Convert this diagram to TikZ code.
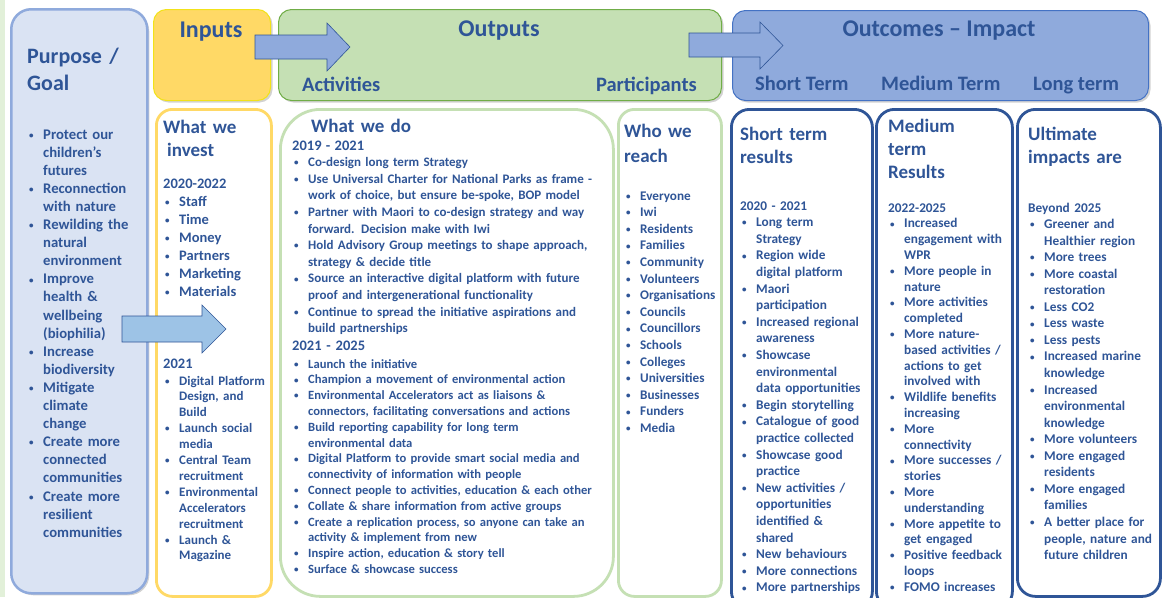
\documentclass[tikz,border=0pt]{standalone}
\usepackage{fontspec}
\setmainfont{Carlito}
\usetikzlibrary{shadows}

\definecolor{txtblue}{HTML}{2F5597}
\definecolor{purposefill}{HTML}{DAE3F3}
\definecolor{purposeline}{HTML}{8FAADC}
\definecolor{inputfill}{HTML}{FFD966}
\definecolor{inputline}{HTML}{F2E21A}
\definecolor{outputfill}{HTML}{C5E0B4}
\definecolor{outputline}{HTML}{70AD47}
\definecolor{outcomefill}{HTML}{8FAADC}
\definecolor{outcomeline}{HTML}{4472C4}
\definecolor{stripgreen}{HTML}{E2F0D9}
\definecolor{arrowlight}{HTML}{9DC3E6}

\newlength\bulind \setlength\bulind{16pt}
% one bullet item, wrapped lines hang under the text
\newcommand\itm[1]{\hangindent=\bulind\hangafter=1\noindent
  \makebox[\bulind][l]{\hspace{2pt}\raisebox{0.8pt}{\fontsize{9}{9}\selectfont\textbullet}}#1\par}
\newcommand\yr[1]{\noindent #1\par}

\begin{document}
\begin{tikzpicture}[x=1pt, y=-1pt,
  hdr/.style={draw, anchor=north west, inner sep=0pt, line width=1pt, rounded corners=13pt,
    drop shadow={opacity=0.35, shadow xshift=2pt, shadow yshift=-2pt}},
  col/.style={draw, fill=white, anchor=north west, inner sep=0pt, line width=2.8pt, rounded corners=16pt},
  ttl/.style={text=txtblue, inner sep=0pt, anchor=base, font=\bfseries\fontsize{24}{29}\selectfont},
  sub/.style={text=txtblue, inner sep=0pt, font=\bfseries\fontsize{20.5}{24}\selectfont},
  head/.style={text=txtblue, inner sep=0pt, anchor=base west, text width=#1, align=left,
    font=\bfseries\fontsize{19}{23.5}\selectfont},
  lst/.style={text=txtblue, inner sep=0pt, anchor=base west, text width=#1, align=left},
  blockarrow/.style={fill=outcomefill, draw=txtblue, line width=0.6pt}
]
  \useasboundingbox (0,0) rectangle (1166,597);
  \fill[white] (0,0) rectangle (1166,597);
  \fill[stripgreen] (0,0) rectangle (5,597);

  %% boxes
  \node[hdr, draw=purposeline, fill=purposefill, line width=2.5pt, rounded corners=20pt,
    minimum width=136, minimum height=584] (purpose) at (10,8) {};
  \node[hdr, draw=inputline, fill=inputfill, minimum width=117, minimum height=91] (inputs) at (153,9) {};
  \node[hdr, draw=outputline, fill=outputfill, minimum width=443, minimum height=91] (outputs) at (278,9) {};
  \node[hdr, draw=outcomeline, fill=outcomefill, minimum width=416, minimum height=90] (outcomes) at (732,10) {};

  \node[col, draw=inputfill, minimum width=115, minimum height=487] (invest) at (155,108) {};
  \node[col, draw=outputfill, rounded corners=40pt, minimum width=333, minimum height=487] (whatwedo) at (279,108) {};
  \node[col, draw=outputfill, minimum width=103, minimum height=487] (whoreach) at (617,108) {};
  \node[col, draw=txtblue, rounded corners=18pt, minimum width=141, minimum height=500] (shortres) at (730,108) {};
  \node[col, draw=txtblue, rounded corners=18pt, minimum width=136, minimum height=500] (medres) at (875,108) {};
  \node[col, draw=txtblue, rounded corners=18pt, minimum width=143, minimum height=487] (longres) at (1016,108) {};

  %% block arrows
  \draw[blockarrow] (255,35) -- (327,35) -- (327,23) -- (350,47) -- (327,71) -- (327,59) -- (255,59) -- cycle;
  \draw[blockarrow] (689,33) -- (760,33) -- (760,22) -- (783,45.5) -- (760,69) -- (760,57) -- (689,57) -- cycle;
  \draw[blockarrow, fill=arrowlight] (122,316) -- (202,316) -- (202,305) -- (226,329) -- (202,353) -- (202,342) -- (122,342) -- cycle;

  %% header texts
  \node[ttl] (inputsTtl) at (211,37) {Inputs};
  \node[ttl] (outputsTtl) at (499,36) {Outputs};
  \node[ttl] (outcomesTtl) at (939,36) {Outcomes – Impact};
  \node[sub, anchor=base west] (activities) at (302,91) {Activities};
  \node[sub, anchor=base east] (participants) at (697,91) {Participants};
  \foreach \x/\t/\n in {755/Short Term/stTerm, 881/Medium Term/mdTerm, 1033/Long term/lgTerm}
    \node[sub, anchor=base west] (\n) at (\x,90) {\t};

  %% purpose / goal
  \node[head=115, font=\bfseries\fontsize{22}{27}\selectfont] (purposeTtl) at (27,63) {Purpose /\newline Goal};
  \node[lst=118, font=\bfseries\fontsize{14.7}{18.1}\selectfont] (purposeLst) at (27,139) {%
    \itm{Protect our\newline children’s\newline futures}
    \itm{Reconnection\newline with nature}
    \itm{Rewilding the\newline natural\newline environment}
    \itm{Improve\newline health \&\newline wellbeing\newline (biophilia)}
    \itm{Increase\newline biodiversity}
    \itm{Mitigate\newline climate\newline change}
    \itm{Create more\newline connected\newline communities}
    \itm{Create more\newline resilient\newline communities}};

  %% inputs
  \node[head=105, font=\bfseries\fontsize{19}{23}\selectfont] (investTtl) at (163,133) {What we\newline\hspace*{4pt}invest};
  \node[lst=110, font=\bfseries\fontsize{14.5}{18}\selectfont] (investA) at (163,188) {%
    \yr{2020-2022}
    \itm{Staff}\itm{Time}\itm{Money}\itm{Partners}\itm{Marketing}\itm{Materials}};
  \node[lst=110, font=\bfseries\fontsize{14.5}{17}\selectfont] (investYr) at (163,368) {2021};
  \node[lst=110, font=\bfseries\fontsize{13}{15.9}\selectfont] (investB) at (163,385) {%
    \itm{Digital Platform\newline Design, and\newline Build}
    \itm{Launch social\newline media}
    \itm{Central Team\newline recruitment}
    \itm{Environmental\newline Accelerators\newline recruitment}
    \itm{Launch \&\newline Magazine}};

  %% outputs: activities
  \node[head=280] (doTtl) at (311,132) {What we do};
  \node[lst=340, font=\bfseries\fontsize{13}{16.6}\selectfont] (doA) at (292,150) {%
    \yr{{\fontsize{14.5}{16.6}\selectfont 2019 - 2021}}
    \itm{Co-design long term Strategy}
    \itm{Use Universal Charter for National Parks as frame -\newline work of choice, but ensure be-spoke, BOP model}
    \itm{Partner with Maori to co-design strategy and way\newline forward. Decision make with Iwi}
    \itm{Hold Advisory Group meetings to shape approach,\newline strategy \& decide title}
    \itm{Source an interactive digital platform with future\newline proof and intergenerational functionality}
    \itm{Continue to spread the initiative aspirations and\newline build partnerships}};
  \node[lst=340, font=\bfseries\fontsize{14.5}{16}\selectfont] (doYr) at (292,350) {2021 - 2025};
  \node[lst=340, font=\bfseries\fontsize{12.6}{15.8}\selectfont] (doB) at (292,368) {%
    \itm{Launch the initiative}
    \itm{Champion a movement of environmental action}
    \itm{Environmental Accelerators act as liaisons \&\newline connectors, facilitating conversations and actions}
    \itm{Build reporting capability for long term\newline environmental data}
    \itm{Digital Platform to provide smart social media and\newline connectivity of information with people}
    \itm{Connect people to activities, education \& each other}
    \itm{Collate \& share information from active groups}
    \itm{Create a replication process, so anyone can take an\newline activity \& implement from new}
    \itm{Inspire action, education \& story tell}
    \itm{Surface \& showcase success}};

  %% outputs: participants
  \node[head=95, font=\bfseries\fontsize{19}{25}\selectfont] (whoTtl) at (624,137) {Who we\newline reach};
  \node[lst=110, font=\bfseries\fontsize{13.2}{16.6}\selectfont] (whoLst) at (624,200) {%
    \foreach \p in {Everyone, Iwi, Residents, Families, Community, Volunteers, Organisations,
      Councils, Councillors, Schools, Colleges, Universities, Businesses, Funders, Media} {\itm{\p}}};

  %% outcomes
  \node[head=125] (shortTtl) at (740,140) {Short term\newline results};
  \node[lst=135, font=\bfseries\fontsize{13.3}{16.6}\selectfont] (shortLst) at (740,210) {%
    \yr{2020 - 2021}
    \itm{Long term\newline Strategy}
    \itm{Region wide\newline digital platform}
    \itm{Maori\newline participation}
    \itm{Increased regional\newline awareness}
    \itm{Showcase\newline environmental\newline data opportunities}
    \itm{Begin storytelling}
    \itm{Catalogue of good\newline practice collected}
    \itm{Showcase good\newline practice}
    \itm{New activities /\newline opportunities\newline identified \&\newline shared}
    \itm{New behaviours}
    \itm{More connections}
    \itm{More partnerships}};

  \node[head=115, font=\bfseries\fontsize{19}{23}\selectfont] (medTtl) at (888,132) {Medium\newline term\newline Results};
  \node[lst=130, font=\bfseries\fontsize{13.3}{15.8}\selectfont] (medLst) at (888,212) {%
    \yr{2022-2025}
    \itm{Increased\newline engagement with\newline WPR}
    \itm{More people in\newline nature}
    \itm{More activities\newline completed}
    \itm{More nature-\newline based activities /\newline actions to get\newline involved with}
    \itm{Wildlife benefits\newline increasing}
    \itm{More\newline connectivity}
    \itm{More successes /\newline stories}
    \itm{More\newline understanding}
    \itm{More appetite to\newline get engaged}
    \itm{Positive feedback\newline loops}
    \itm{FOMO increases}};

  \node[head=125] (longTtl) at (1028,140) {Ultimate\newline impacts are};
  \node[lst=130, font=\bfseries\fontsize{13.3}{16.55}\selectfont] (longLst) at (1028,212) {%
    \yr{Beyond 2025}
    \itm{Greener and\newline Healthier region}
    \itm{More trees}
    \itm{More coastal\newline restoration}
    \itm{Less CO2}
    \itm{Less waste}
    \itm{Less pests}
    \itm{Increased marine\newline knowledge}
    \itm{Increased\newline environmental\newline knowledge}
    \itm{More volunteers}
    \itm{More engaged\newline residents}
    \itm{More engaged\newline families}
    \itm{A better place for\newline people, nature and\newline future children}};
\end{tikzpicture}
\end{document}
